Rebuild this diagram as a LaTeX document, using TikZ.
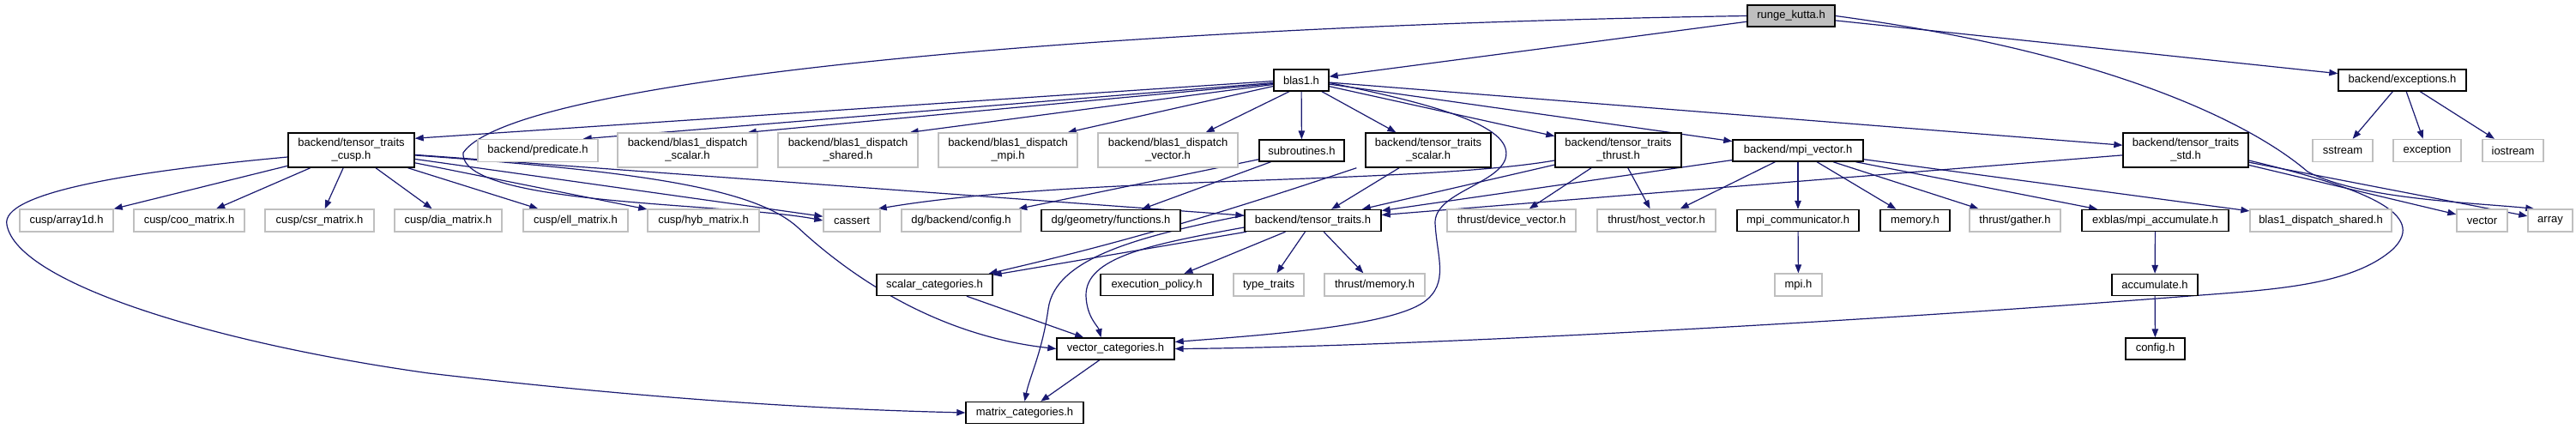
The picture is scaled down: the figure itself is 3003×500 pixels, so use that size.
\documentclass[tikz,border=0pt]{standalone}
\usepackage{fontspec}
\setmainfont{Liberation Sans}
\usetikzlibrary{arrows.meta}
\definecolor{edgec}{HTML}{191970}
\definecolor{greyb}{HTML}{BFBFBF}
\definecolor{rkfill}{HTML}{BFBFBF}
\pgfdeclarelayer{bg}
\pgfsetlayers{bg,main}
\begin{document}
\begin{tikzpicture}[x=1pt,y={(0pt,-1pt)},
  every node/.style={font=\fontsize{13}{15}\selectfont},
  box/.style={draw=black,line width=1.4pt,fill=white,inner sep=0pt,align=center,minimum height=25pt},
  ext/.style={draw=greyb,line width=1.4pt,fill=white,inner sep=0pt,align=center,minimum height=26pt},
  tall/.style={minimum height=40pt},
  edge/.style={draw=edgec,line width=1.2pt,-{Triangle[length=10pt,width=7.5pt]}},
]
\useasboundingbox (0,0) rectangle (3003,500);
% row 0/1
\node[box,fill=rkfill,minimum width=102pt] (rk) at (2088,18.5) {runge\_kutta.h};
\node[box,minimum width=64pt] (blas1) at (1517,93.5) {blas1.h};
\node[box,minimum width=149pt] (exc) at (2800.5,93.5) {backend/exceptions.h};
% row 2
\node[box,tall,minimum width=147pt] (cusp) at (409.5,175) {backend/tensor\_traits\\\_cusp.h};
\node[ext,minimum width=140pt] (pred) at (627,175.5) {backend/predicate.h};
\node[ext,tall,minimum width=163pt] (dsc) at (801.5,175) {backend/blas1\_dispatch\\\_scalar.h};
\node[ext,tall,minimum width=163pt] (dsh) at (988.5,175) {backend/blas1\_dispatch\\\_shared.h};
\node[ext,tall,minimum width=162pt] (dmpi) at (1175,175) {backend/blas1\_dispatch\\\_mpi.h};
\node[ext,tall,minimum width=163pt] (dvec) at (1361.5,175) {backend/blas1\_dispatch\\\_vector.h};
\node[box,minimum width=99pt] (sub) at (1517.5,175.5) {subroutines.h};
\node[box,tall,minimum width=146pt] (tts) at (1665,175) {backend/tensor\_traits\\\_scalar.h};
\node[box,tall,minimum width=147pt] (ttt) at (1886.5,175) {backend/tensor\_traits\\\_thrust.h};
\node[box,minimum width=152pt] (mpiv) at (2096,175.5) {backend/mpi\_vector.h};
\node[box,tall,minimum width=146pt] (ttstd) at (2548,175) {backend/tensor\_traits\\\_std.h};
\node[ext,minimum width=70pt] (sstr) at (2731,175.5) {sstream};
\node[ext,minimum width=79pt] (excp) at (2829.5,175.5) {exception};
\node[ext,minimum width=71pt] (iostr) at (2929.5,175.5) {iostream};
% row 3
\node[ext,minimum width=109pt] (a1d) at (77.5,257) {cusp/array1d.h};
\node[ext,minimum width=129pt] (coo) at (220.5,257) {cusp/coo\_matrix.h};
\node[ext,minimum width=127pt] (csr) at (372.5,257) {cusp/csr\_matrix.h};
\node[ext,minimum width=125pt] (dia) at (522.5,257) {cusp/dia\_matrix.h};
\node[ext,minimum width=122pt] (ell) at (671,257) {cusp/ell\_matrix.h};
\node[ext,minimum width=130pt] (hyb) at (820,257) {cusp/hyb\_matrix.h};
\node[ext,minimum width=66pt] (cassert) at (993,257) {cassert};
\node[ext,minimum width=139pt] (dgcfg) at (1120.5,257) {dg/backend/config.h};
\node[box,minimum width=162pt] (geo) at (1295,257) {dg/geometry/functions.h};
\node[box,minimum width=159pt] (tt) at (1530.5,257) {backend/tensor\_traits.h};
\node[ext,minimum width=150pt] (dvth) at (1762,257) {thrust/device\_vector.h};
\node[ext,minimum width=138pt] (hvec) at (1931,257) {thrust/host\_vector.h};
\node[box,minimum width=142pt] (comm) at (2096,257) {mpi\_communicator.h};
\node[box,minimum width=81pt] (mem) at (2232.5,257) {memory.h};
\node[ext,minimum width=106pt] (gat) at (2349,257) {thrust/gather.h};
\node[box,minimum width=171pt] (macc) at (2512.5,257) {exblas/mpi\_accumulate.h};
\node[ext,minimum width=165pt] (bds) at (2705.5,257) {blas1\_dispatch\_shared.h};
\node[ext,minimum width=59pt] (vec) at (2893.5,257) {vector};
\node[ext,minimum width=52pt] (arr) at (2973,257) {array};
% row 4
\node[box,minimum width=135pt] (scat) at (1089.5,332) {scalar\_categories.h};
\node[box,minimum width=131pt] (exec) at (1348.5,332) {execution\_policy.h};
\node[ext,minimum width=82pt] (tyt) at (1479,332) {type\_traits};
\node[ext,minimum width=117pt] (tmem) at (1602.5,332) {thrust/memory.h};
\node[ext,minimum width=55pt] (mpih) at (2096.5,332) {mpi.h};
\node[box,minimum width=100pt] (acc) at (2512,332) {accumulate.h};
% row 5/6
\node[box,minimum width=137pt] (vcat) at (1300.5,406.5) {vector\_categories.h};
\node[box,minimum width=69pt] (cfg) at (2512.5,406.5) {config.h};
\node[box,minimum width=137pt] (mcat) at (1194.5,481) {matrix\_categories.h};

\begin{pgfonlayer}{bg}
% edges from blas1 to the left
\draw[edge] ([yshift=-1pt]blas1.west) -- ([yshift=-7pt]cusp.north east);
\draw[edge] ([yshift=-3pt]blas1.west) -- ([xshift=-18pt]pred.north east);
\draw[edge] ([yshift=-4pt]blas1.west) -- ([xshift=-12pt]dsc.north east);
\draw[edge] ([yshift=-5pt]blas1.west) -- ([xshift=-10pt]dsh.north east);
\draw[edge] ([yshift=-7pt]blas1.west) -- ([xshift=-12pt]dsc.north east -| dmpi.east);
\draw[edge] ([xshift=-14pt]blas1.south) -- ([xshift=-38pt]dvec.north east);
% edges: straight
\foreach \a/\b in {rk/blas1,rk/exc,
  blas1/sub,blas1/tts,blas1/ttt,blas1/mpiv,blas1/ttstd,
  exc/sstr,exc/excp,exc/iostr,
  cusp/a1d,cusp/coo,cusp/csr,cusp/dia,cusp/ell,cusp/hyb,cusp/cassert,cusp/tt,
  sub/dgcfg,sub/geo,
  tts/tt,ttt/tt,ttt/dvth,ttt/hvec,
  mpiv/tt,mpiv/hvec,mpiv/comm,mpiv/mem,mpiv/gat,mpiv/macc,mpiv/bds,
  ttstd/tt,ttstd/vec,ttstd/arr,
  tt/scat,tt/exec,tt/tyt,tt/tmem,
  scat/vcat,vcat/mcat,comm/mpih,macc/acc,acc/cfg}
  \draw[edge] (\a) -- (\b);

% edges: curves
\draw[edge] (rk.west) .. controls (1300,30) and (600,90) .. (540,178)
   .. controls (535,240) and (850,236) .. (cassert.west);
\draw[edge] (rk.east) .. controls (2450,60) and (2620,140) .. (2690,200)
   .. controls (2750,232) and (2880,236) .. ([xshift=8pt]arr.north west);
\draw[edge] ([yshift=-3pt]blas1.east) .. controls (1690,125) and (1765,150) .. (1755,185)
   .. controls (1745,215) and (1672,225) .. (1673,260)
   .. controls (1675,300) and (1690,330) .. (1660,352)
   .. controls (1620,380) and (1480,390) .. ([yshift=8pt]vcat.east);
\draw[edge] ([yshift=-12pt]ttstd.east) .. controls (2760,220) and (2830,250) .. (2790,290)
   .. controls (2740,335) and (2640,338) .. (2540,346)
   .. controls (2100,380) and (1600,405) .. (vcat.east);
\draw[edge] ([yshift=-6pt]cusp.east) .. controls (750,200) and (880,220) .. (930,265)
   .. controls (1000,330) and (1100,392) .. (vcat.west);
\draw[edge] ([yshift=-8pt]cusp.west) .. controls (150,200) and (0,225) .. (8,262)
   .. controls (20,330) and (250,400) .. (500,435)
   .. controls (800,470) and (1000,478) .. (mcat.west);
\draw[edge] ([yshift=6pt]tt.west) .. controls (1330,275) and (1230,300) .. (1222,360)
   .. controls (1215,410) and (1200,440) .. (mcat.north);
\draw[edge] ([yshift=-8pt]tt.west) .. controls (1340,285) and (1265,300) .. (1266,345)
   .. controls (1267,370) and (1280,380) .. ([xshift=-17pt]vcat.north);
\draw[edge] ([xshift=-10pt]tts.south west) .. controls (1420,250) and (1300,285) .. ([xshift=-5pt]scat.north east);
\draw[edge] ([yshift=-12pt]ttt.west) .. controls (1650,215) and (1250,205) .. ([xshift=-3pt]cassert.north east);
\end{pgfonlayer}
\end{tikzpicture}
\end{document}
